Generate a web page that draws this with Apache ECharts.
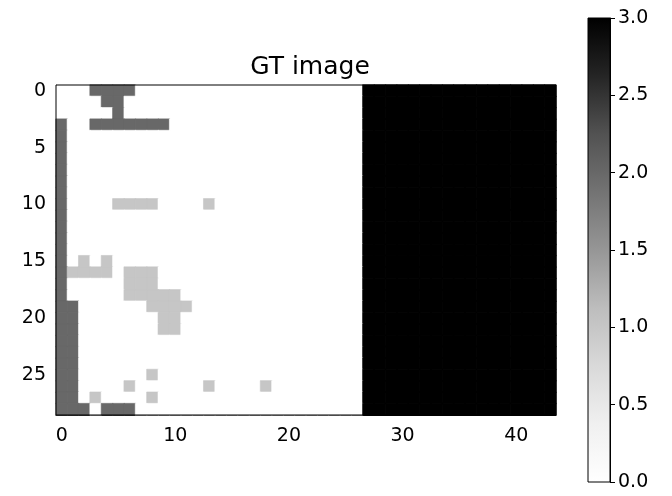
<!DOCTYPE html>
<html>
<head>
<meta charset="utf-8">
<script src="https://cdn.jsdelivr.net/npm/echarts@6/dist/echarts.min.js"></script>
<style>
  html, body { margin: 0; padding: 0; background: #fff; }
  #main { width: 672px; height: 496px; }
</style>
</head>
<body>
<div id="main"></div>
<script>
// columns 0..43, rows 0..28 (row 0 on top)
const colLabels = [];
for (let i = 0; i < 44; i++) colLabels.push(String(i));
const rowLabels = [];
for (let i = 0; i < 29; i++) rowLabels.push(String(i));

const xTicks = [0, 10, 20, 30, 40];
const yTicks = [0, 5, 10, 15, 20, 25];
const cbarMax = 3;

// one string per row, one digit per cell (value 0..3), spaces are only for reading
const gtRows = [
  '0002222000 0000000000 0000000 33333333333333333',
  '0000220000 0000000000 0000000 33333333333333333',
  '0000020000 0000000000 0000000 33333333333333333',
  '2002222222 0000000000 0000000 33333333333333333',
  '2000000000 0000000000 0000000 33333333333333333',
  '2000000000 0000000000 0000000 33333333333333333',
  '2000000000 0000000000 0000000 33333333333333333',
  '2000000000 0000000000 0000000 33333333333333333',
  '2000000000 0000000000 0000000 33333333333333333',
  '2000000000 0000000000 0000000 33333333333333333',
  '2000011110 0001000000 0000000 33333333333333333',
  '2000000000 0000000000 0000000 33333333333333333',
  '2000000000 0000000000 0000000 33333333333333333',
  '2000000000 0000000000 0000000 33333333333333333',
  '2000000000 0000000000 0000000 33333333333333333',
  '2010100000 0000000000 0000000 33333333333333333',
  '2111101110 0000000000 0000000 33333333333333333',
  '2000001110 0000000000 0000000 33333333333333333',
  '2000001111 1000000000 0000000 33333333333333333',
  '2200000011 1100000000 0000000 33333333333333333',
  '2200000001 1000000000 0000000 33333333333333333',
  '2200000001 1000000000 0000000 33333333333333333',
  '2200000000 0000000000 0000000 33333333333333333',
  '2200000000 0000000000 0000000 33333333333333333',
  '2200000000 0000000000 0000000 33333333333333333',
  '2200000010 0000000000 0000000 33333333333333333',
  '2200001000 0001000010 0000000 33333333333333333',
  '2201000010 0000000000 0000000 33333333333333333',
  '2220222000 0000000000 0000000 33333333333333333'
];

// matplotlib "Greys" colormap stops
const greys = ['#ffffff', '#f0f0f0', '#d9d9d9', '#bdbdbd', '#969696', '#737373', '#525252', '#252525', '#000000'];

function cellColor(v) {
  return echarts.color.lerp(v / cbarMax, greys);
}

let cells = [];
gtRows.forEach(function (row, r) {
  let digits = row.replace(/ /g, '');
  for (let c = 0; c < digits.length; c++) {
    let v = +digits[c];
    let col = cellColor(v);
    // border in the same colour hides the seams between cells
    cells.push({ value: [c, r, v], itemStyle: { color: col, borderColor: col, borderWidth: 0.6 } });
  }
});

const font = 'DejaVu Sans';
let chart = echarts.init(document.getElementById('main'), null, { renderer: 'canvas' });

let option = {
  animation: false,
  backgroundColor: '#fff',
  title: {
    text: 'GT image',
    left: 305,
    textAlign: 'center',
    top: 50,
    textStyle: { fontFamily: font, fontWeight: 'normal', fontSize: 25, color: '#000' }
  },
  grid: [
    { left: 56, top: 85, width: 500, height: 330, show: true, z: 10,
      backgroundColor: 'transparent', borderColor: '#000', borderWidth: 1 },
    { left: 588, top: 18, width: 22, height: 464, show: true, z: 10,
      backgroundColor: 'transparent', borderColor: '#000', borderWidth: 1 }
  ],
  xAxis: [
    {
      gridIndex: 0,
      type: 'category',
      data: colLabels,
      axisLine: { lineStyle: { color: '#000' } },
      axisTick: {
        alignWithLabel: true, length: 5, lineStyle: { color: '#000' },
        interval: function (i) { return xTicks.indexOf(i) >= 0; }
      },
      axisLabel: {
        fontFamily: font, fontSize: 19, color: '#000', margin: 12,
        interval: function (i) { return xTicks.indexOf(i) >= 0; }
      },
      splitLine: { show: false }
    },
    { gridIndex: 1, type: 'category', data: ['cbar'], show: false }
  ],
  yAxis: [
    {
      gridIndex: 0,
      type: 'category',
      data: rowLabels,
      inverse: true,
      axisLine: { lineStyle: { color: '#000' } },
      axisTick: {
        alignWithLabel: true, length: 5, lineStyle: { color: '#000' },
        interval: function (i) { return yTicks.indexOf(i) >= 0; }
      },
      axisLabel: {
        fontFamily: font, fontSize: 19, color: '#000', margin: 10,
        interval: function (i) { return yTicks.indexOf(i) >= 0; }
      },
      splitLine: { show: false }
    },
    {
      gridIndex: 1,
      type: 'value',
      position: 'right',
      min: 0,
      max: cbarMax,
      interval: 0.5,
      axisLine: { show: true, lineStyle: { color: '#000' } },
      axisTick: { show: true, length: 5, lineStyle: { color: '#000' } },
      axisLabel: {
        fontFamily: font, fontSize: 19, color: '#000', margin: 8,
        formatter: function (v) { return v.toFixed(1); }
      },
      splitLine: { show: false }
    }
  ],
  series: [
    {
      type: 'heatmap',
      xAxisIndex: 0,
      yAxisIndex: 0,
      data: cells,
      progressive: 0,
      emphasis: { disabled: true }
    },
    {
      type: 'bar',
      xAxisIndex: 1,
      yAxisIndex: 1,
      data: [cbarMax],
      barWidth: '100%',
      silent: true,
      itemStyle: {
        color: {
          type: 'linear', x: 0, y: 1, x2: 0, y2: 0,
          colorStops: greys.map(function (c, i) {
            return { offset: i / (greys.length - 1), color: c };
          })
        }
      }
    }
  ]
};

chart.setOption(option);
</script>
</body>
</html>
